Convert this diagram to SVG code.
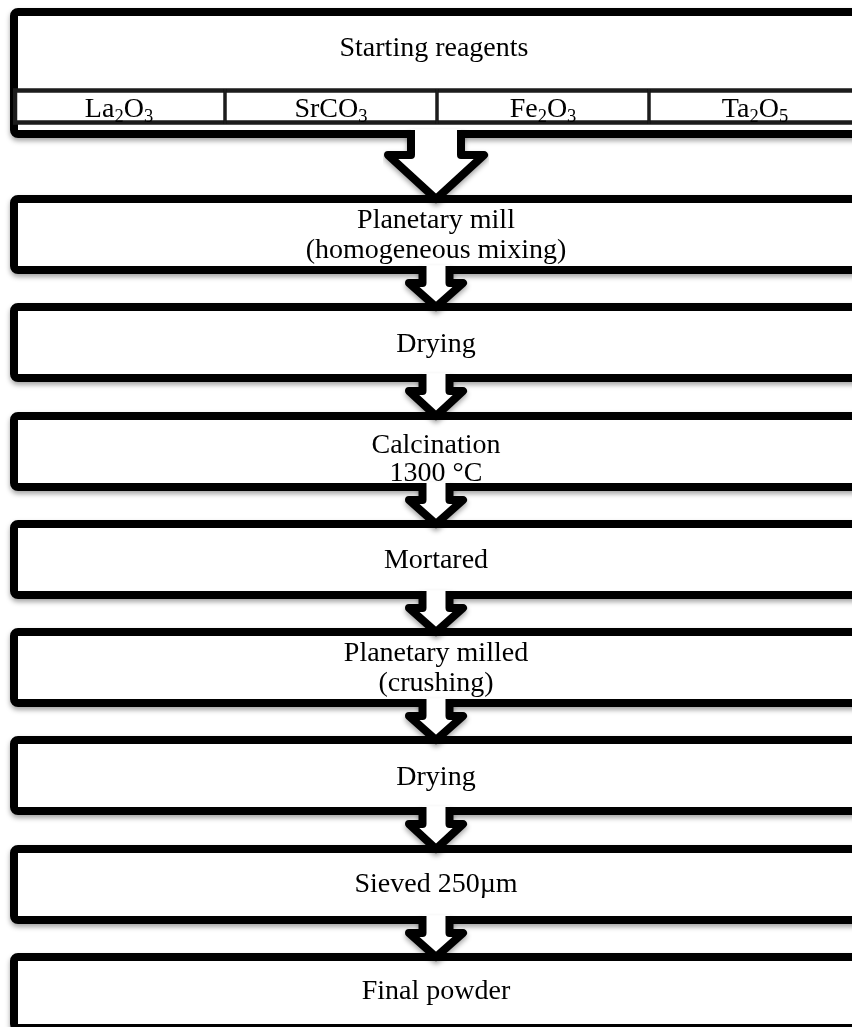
<svg xmlns="http://www.w3.org/2000/svg" width="852" height="1027" viewBox="0 0 852 1027">
<defs>
<filter id="sh" x="-5%" y="-20%" width="110%" height="150%">
<feDropShadow dx="0" dy="3" stdDeviation="2.5" flood-color="#000" flood-opacity="0.35"/>
</filter>
</defs>
<style>
.box{fill:#fff;stroke:#000;stroke-width:8;}
.row{fill:#fff;stroke:#1a1a1a;stroke-width:4.5;}
.div{stroke:#1a1a1a;stroke-width:3.5;}
.af{fill:#fff;stroke:none;}
.as{fill:none;stroke:#000;stroke-width:8;stroke-linejoin:round;}
text{font-family:"Liberation Serif","Times New Roman",serif;font-size:28px;fill:#000;text-anchor:middle;}
.sub{font-size:18.5px;}
</style>
<rect width="852" height="1027" fill="#fff"/>

<g id="n1" filter="url(#sh)">
<rect class="box" x="14" y="12" width="850" height="122" rx="4"/>
<rect class="row" x="15" y="90.5" width="850" height="32"/>
<line class="div" x1="225" y1="89" x2="225" y2="124"/>
<line class="div" x1="437" y1="89" x2="437" y2="124"/>
<line class="div" x1="649" y1="89" x2="649" y2="124"/>
<text x="434" y="56">Starting reagents</text>
<text x="119" y="117">La<tspan class="sub" dy="5">2</tspan><tspan dy="-5">O</tspan><tspan class="sub" dy="5">3</tspan></text>
<text x="331" y="117">SrCO<tspan class="sub" dy="5">3</tspan></text>
<text x="543" y="117">Fe<tspan class="sub" dy="5">2</tspan><tspan dy="-5">O</tspan><tspan class="sub" dy="5">3</tspan></text>
<text x="755" y="117">Ta<tspan class="sub" dy="5">2</tspan><tspan dy="-5">O</tspan><tspan class="sub" dy="5">5</tspan></text>
</g>

<g id="n2" filter="url(#sh)">
<rect class="box" x="14" y="199" width="850" height="71" rx="4"/>
<text x="436" y="228">Planetary mill</text>
<text x="436" y="258">(homogeneous mixing)</text>
</g>
<g id="n3" filter="url(#sh)">
<rect class="box" x="14" y="307" width="850" height="71" rx="4"/>
<text x="436" y="352">Drying</text>
</g>
<g id="n4" filter="url(#sh)">
<rect class="box" x="14" y="416" width="850" height="71" rx="4"/>
<text x="436" y="453">Calcination</text>
<text x="436" y="481">1300 °C</text>
</g>
<g id="n5" filter="url(#sh)">
<rect class="box" x="14" y="524" width="850" height="71" rx="4"/>
<text x="436" y="568">Mortared</text>
</g>
<g id="n6" filter="url(#sh)">
<rect class="box" x="14" y="632" width="850" height="71" rx="4"/>
<text x="436" y="661">Planetary milled</text>
<text x="436" y="691">(crushing)</text>
</g>
<g id="n7" filter="url(#sh)">
<rect class="box" x="14" y="740" width="850" height="71" rx="4"/>
<text x="436" y="785">Drying</text>
</g>
<g id="n8" filter="url(#sh)">
<rect class="box" x="14" y="849" width="850" height="71" rx="4"/>
<text x="436" y="892">Sieved 250µm</text>
</g>
<g id="n9" filter="url(#sh)">
<rect class="box" x="14" y="957" width="850" height="71" rx="4"/>
<text x="436" y="999">Final powder</text>
</g>

<g id="connectors" filter="url(#sh)">
<path class="af" d="M411,129.5 L411,155 L388,155 L436,199 L484,155 L461,155 L461,129.5 Z"/>
<path class="as" d="M411,130 L411,155 L388,155 L436,199 L484,155 L461,155 L461,130"/>
<g transform="translate(0,270)">
<path class="af" d="M422.5,-4.5 L422.5,13 L409,13 L436,37 L463,13 L449.5,13 L449.5,-4.5 Z"/>
<path class="as" d="M422.5,-4 L422.5,13 L409,13 L436,37 L463,13 L449.5,13 L449.5,-4"/>
</g>
<g transform="translate(0,378)">
<path class="af" d="M422.5,-4.5 L422.5,13 L409,13 L436,38 L463,13 L449.5,13 L449.5,-4.5 Z"/>
<path class="as" d="M422.5,-4 L422.5,13 L409,13 L436,38 L463,13 L449.5,13 L449.5,-4"/>
</g>
<g transform="translate(0,487)">
<path class="af" d="M422.5,-4.5 L422.5,13 L409,13 L436,37 L463,13 L449.5,13 L449.5,-4.5 Z"/>
<path class="as" d="M422.5,-4 L422.5,13 L409,13 L436,37 L463,13 L449.5,13 L449.5,-4"/>
</g>
<g transform="translate(0,595)">
<path class="af" d="M422.5,-4.5 L422.5,13 L409,13 L436,37 L463,13 L449.5,13 L449.5,-4.5 Z"/>
<path class="as" d="M422.5,-4 L422.5,13 L409,13 L436,37 L463,13 L449.5,13 L449.5,-4"/>
</g>
<g transform="translate(0,703)">
<path class="af" d="M422.5,-4.5 L422.5,13 L409,13 L436,37 L463,13 L449.5,13 L449.5,-4.5 Z"/>
<path class="as" d="M422.5,-4 L422.5,13 L409,13 L436,37 L463,13 L449.5,13 L449.5,-4"/>
</g>
<g transform="translate(0,811)">
<path class="af" d="M422.5,-4.5 L422.5,13 L409,13 L436,38 L463,13 L449.5,13 L449.5,-4.5 Z"/>
<path class="as" d="M422.5,-4 L422.5,13 L409,13 L436,38 L463,13 L449.5,13 L449.5,-4"/>
</g>
<g transform="translate(0,920)">
<path class="af" d="M422.5,-4.5 L422.5,13 L409,13 L436,37 L463,13 L449.5,13 L449.5,-4.5 Z"/>
<path class="as" d="M422.5,-4 L422.5,13 L409,13 L436,37 L463,13 L449.5,13 L449.5,-4"/>
</g>
</g>
</svg>
